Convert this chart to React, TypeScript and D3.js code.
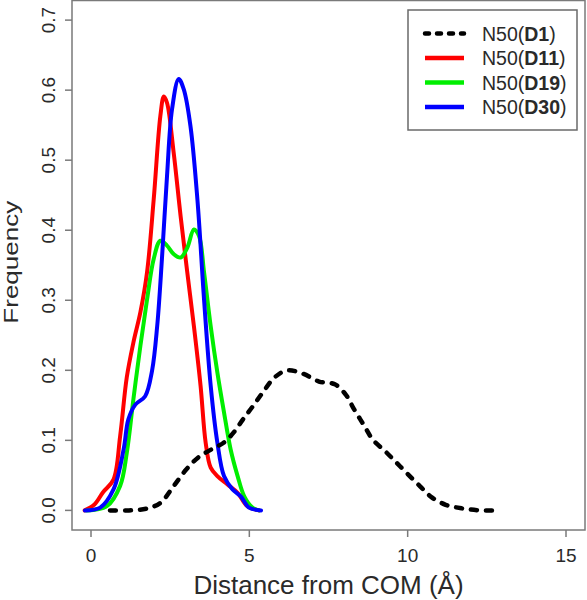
import React from "react";
import * as d3 from "d3";

const xTicks = [0, 5, 10, 15];
const yTicks = [0, 0.1, 0.2, 0.3, 0.4, 0.5, 0.6, 0.7];

const d1X = [0.6, 1.2, 1.8, 2.2, 2.6, 3.0, 3.4, 3.8, 4.2, 4.5, 4.8, 5.1, 5.45, 5.8, 6.2, 6.7, 7.2, 7.7, 8.05, 8.3, 8.6, 8.9, 9.3, 9.65, 10.0, 10.4, 10.75, 11.2, 11.7, 12.3, 12.9];
const d1Y = [0, 0, 0.003, 0.011, 0.034, 0.058, 0.076, 0.087, 0.097, 0.111, 0.13, 0.148, 0.17, 0.19, 0.2, 0.195, 0.184, 0.18, 0.165, 0.145, 0.123, 0.101, 0.084, 0.068, 0.052, 0.034, 0.019, 0.008, 0.003, 0.0, 0];

const d11X = [-0.2, 0.1, 0.38, 0.71, 0.92, 1.13, 1.34, 1.56, 1.77, 1.98, 2.19, 2.3, 2.4, 2.61, 2.83, 3.04, 3.25, 3.46, 3.62, 3.78, 3.99, 4.31, 4.63, 4.94, 5.3];
const d11Y = [0, 0.008, 0.026, 0.044, 0.106, 0.19, 0.24, 0.283, 0.34, 0.444, 0.563, 0.591, 0.582, 0.511, 0.42, 0.34, 0.263, 0.178, 0.097, 0.061, 0.049, 0.037, 0.025, 0.006, 0];

const d19X = [-0.14, 0.5, 0.92, 1.13, 1.34, 1.56, 1.77, 1.98, 2.19, 2.4, 2.61, 2.83, 3.04, 3.25, 3.41, 3.57, 3.78, 3.99, 4.2, 4.41, 4.63, 4.84, 5.1, 5.31];
const d19Y = [0, 0.006, 0.035, 0.082, 0.159, 0.235, 0.301, 0.359, 0.385, 0.378, 0.366, 0.361, 0.375, 0.401, 0.392, 0.34, 0.263, 0.197, 0.14, 0.087, 0.049, 0.02, 0.004, 0];

const d30X = [-0.19, 0.29, 0.71, 1.03, 1.18, 1.4, 1.71, 1.93, 2.09, 2.24, 2.4, 2.56, 2.77, 2.93, 3.14, 3.36, 3.57, 3.78, 3.99, 4.2, 4.47, 4.73, 4.99, 5.37];
const d30Y = [0, 0.004, 0.03, 0.087, 0.13, 0.151, 0.163, 0.2, 0.263, 0.359, 0.477, 0.573, 0.616, 0.601, 0.549, 0.444, 0.301, 0.178, 0.097, 0.049, 0.03, 0.02, 0.004, 0];

const seriesNames = ["D1", "D11", "D19", "D30"];
const seriesColors = ["#000000", "#ff0000", "#00ee00", "#0000ff"];

export default function App() {
  const W = 587, H = 600;
  const left = 72, right = 585, top = 0.5, bottom = 530;
  const x = d3.scaleLinear().domain([-0.6, 15.6]).range([left, right]);
  const y = d3.scaleLinear().domain([-0.028, 0.728]).range([bottom, top]);
  const line = d3.line<[number, number]>()
    .x((d) => x(d[0]))
    .y((d) => y(d[1]))
    .curve(d3.curveCatmullRom.alpha(0.5));
  const zip = (a: number[], b: number[]) => a.map((v, i) => [v, b[i]] as [number, number]);
  const series = [zip(d1X, d1Y), zip(d11X, d11Y), zip(d19X, d19Y), zip(d30X, d30Y)];
  const font = "'Liberation Sans', Arial, Helvetica, sans-serif";
  const textCol = "#2a2a2a";
  const axisCol = "#7a7a7a";
  const legY = [33.5, 58, 82.5, 107];

  return (
    <svg width={W} height={H} style={{ position: "absolute", left: 0, top: 0, background: "#fff" }} fontFamily={font}>
      <rect x={0} y={0} width={W} height={H} fill="#fff" />
      {/* curves */}
      {series.slice(1).map((s, i) => (
        <path key={i} d={line(s) || ""} fill="none" stroke={seriesColors[i + 1]} strokeWidth={4} strokeLinejoin="round" strokeLinecap="round" />
      ))}
      <path d={line(series[0]) || ""} fill="none" stroke="#000" strokeWidth={4.5} strokeDasharray="6 9" strokeLinecap="round" />
      {/* frame */}
      <rect x={left} y={top} width={right - left} height={bottom - top} fill="none" stroke={axisCol} strokeWidth={1.5} />
      {/* x axis */}
      {xTicks.map((t) => (
        <g key={t}>
          <line x1={x(t)} x2={x(t)} y1={bottom} y2={bottom + 7} stroke={axisCol} strokeWidth={1.5} />
          <text x={x(t)} y={562} textAnchor="middle" fontSize={19} fill={textCol}>{t}</text>
        </g>
      ))}
      {yTicks.map((t) => (
        <g key={t}>
          <line x1={left - 7} x2={left} y1={y(t)} y2={y(t)} stroke={axisCol} strokeWidth={1.5} />
          <text transform={`translate(55,${y(t)}) rotate(-90)`} textAnchor="middle" fontSize={19} fill={textCol}>{t.toFixed(1)}</text>
        </g>
      ))}
      <text x={(left + right) / 2} y={594} textAnchor="middle" fontSize={26} fill={textCol}>Distance from COM (Å)</text>
      <text transform={`translate(17.5,${(top + bottom) / 2 - 3}) rotate(-90) scale(1,0.8)`} textAnchor="middle" fontSize={26} fill={textCol}>Frequency</text>
      {/* legend */}
      <rect x={408} y={10} width={169} height={120} fill="#fff" stroke="#6a6a6a" strokeWidth={1.5} />
      {seriesNames.map((n, i) => (
        <g key={n}>
          <line x1={425} x2={464} y1={legY[i]} y2={legY[i]} stroke={seriesColors[i]} strokeWidth={4.5}
            strokeDasharray={i === 0 ? "4 8" : undefined} strokeLinecap={i === 0 ? "round" : "butt"} />
          <text x={482} y={legY[i] + 7} fontSize={19.5} fill={textCol}>
            N50(<tspan fontWeight="bold">{n}</tspan>)
          </text>
        </g>
      ))}
    </svg>
  );
}
